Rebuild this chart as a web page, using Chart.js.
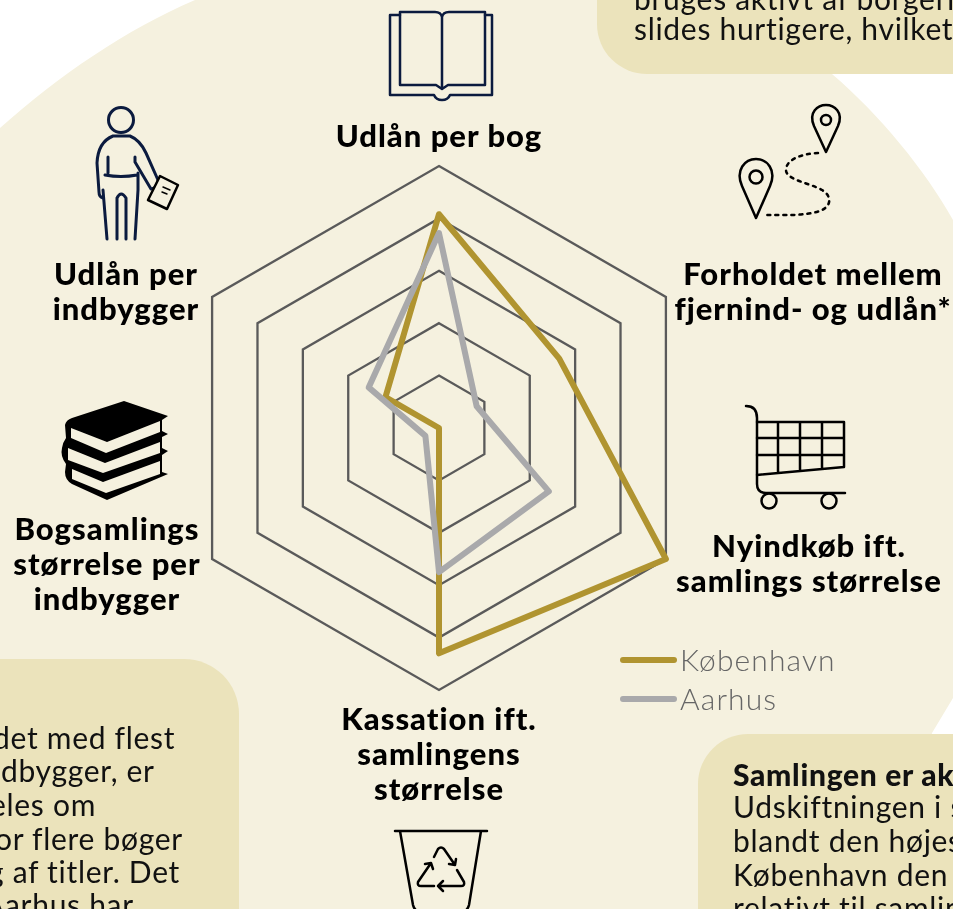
<!DOCTYPE html>
<html lang="da">
<head>
<meta charset="utf-8">
<title>Udlån radar</title>
<script src="https://cdn.jsdelivr.net/npm/chart.js@4"></script>
<style>
  html, body { margin: 0; padding: 0; background: #fff; }
  #page { position: relative; width: 953px; height: 909px; overflow: hidden; font-family: Lato, sans-serif; }
  #page > svg, #page > canvas { position: absolute; left: 0; top: 0; }
  .box { position: absolute; background: #ebe3bb; }
  .label { position: absolute; transform: translateX(-50%); text-align: center; white-space: nowrap;
    font-weight: 900; font-size: 31px; letter-spacing: 1px; line-height: 35px; color: #000; }
  .line { position: absolute; white-space: nowrap; font-size: 30px; letter-spacing: .7px; line-height: 35px; color: #111; }
  .leg { position: absolute; font-size: 30px; line-height: 35px; color: #666; font-weight: 300; letter-spacing: 1.1px; white-space: nowrap; }
  .swatch { position: absolute; width: 57px; height: 6px; border-radius: 3px; }
</style>
</head>
<body>
<div id="page">
  <svg width="953" height="909"><path fill="#f5f1df" d="M0 128C60 75 125 30 195 0L740 0L832 74C880 115 925 170 953 220L953 698L932 733L900 909L0 909Z"/></svg>
  <div class="box" style="left:597px;top:-60px;width:420px;height:134px;border-radius:50px"></div>
  <div class="box" style="left:-80px;top:659px;width:319px;height:320px;border-radius:55px"></div>
  <div class="box" style="left:698px;top:734px;width:320px;height:240px;border-radius:50px"></div>
  <canvas id="chart" width="953" height="909"></canvas>
  <svg width="953" height="909" fill="none" stroke-linecap="round" stroke-linejoin="round">
    <!-- book -->
    <g stroke="#0b1b3f" stroke-width="2.5">
      <path d="M400 15H390V95H434Q436 100 442 100Q448 100 450 95H492V15H485"/>
      <path d="M442 17Q441 12 435 12H400V85H436L442 89L448 85H485V12H449Q443 12 442 17V89"/>
    </g>
    <!-- person -->
    <g stroke="#0b1b3f" stroke-width="3">
      <circle cx="121" cy="120" r="12.5"/>
      <path d="M103 198Q99 197 99 192L97 163Q98 142 113 136H130Q140 140 146 153L158 180Q158 188 151 189L135 162V157"/>
      <path d="M108 157V173M105 175Q121 178 137 175M103 190L107 239M138 173V190L135 239M117 239V198Q121 190 126 198V239"/>
    </g>
    <path stroke="#000" stroke-width="2.5" fill="#f5f1df" d="M160 176L178 185L167 209L148 200Z"/>
    <path stroke="#000" stroke-width="1.5" d="M163 187L170 190M162 192L167 194"/>
    <!-- pile of books -->
    <path fill="#000" stroke="none" d="M124 401L168 416L162 420V431L168 434L162 437V448L168 451L162 455V472L168 474L107 500L72 484Q65 480 65 472L66 464Q60 456 62 448Q63 442 66 438L65 425Q66 420 72 418Z"/>
    <g fill="#f5f1df" stroke="none">
      <path d="M71 428L107 442L160 421V432L106 453L71 438Z"/>
      <path d="M68 448L105 463L160 442V453L103 473L68 460Z"/>
      <path d="M72 469L103 482L160 461V474L106 493L72 479Z"/>
    </g>
    <!-- route with pins -->
    <g stroke="#000" stroke-width="2.5">
      <path d="M826 152L814 126C808 112 818 105 826 105C834 105 844 112 838 126Z"/>
      <circle cx="826" cy="120" r="5"/>
      <path d="M756 218L742 186C735 170 745 159 756 159C767 159 777 170 770 186Z"/>
      <circle cx="756" cy="177" r="6.5"/>
      <path stroke-dasharray="3 5" d="M818 153C800 154 786 160 786 170C786 180 810 183 822 190C832 196 832 206 820 211C805 216 785 215 767 215"/>
    </g>
    <!-- cart -->
    <g stroke="#000" stroke-width="2.5">
      <path d="M746 406Q757 406 757 418V484Q757 493 766 493H845"/>
      <path d="M757 422H844V467L757 475M757 438H844M757 455H844M778 422V473M800 422V471M822 422V469"/>
      <circle cx="769" cy="501" r="7.5"/>
      <circle cx="829" cy="501" r="7.5"/>
    </g>
    <!-- recycling bin -->
    <g stroke="#000" stroke-width="2.5">
      <path d="M395 831H487M400 831L413 905Q414 909 417 911M481 831L469 905Q468 909 465 911"/>
      <path d="M434 857L438 849Q441 846 444 849L455 865M449 864L455 865L456 859"/>
      <path d="M457 870L464 882Q465 886 461 886H438M443 881L438 886L443 891"/>
      <path d="M434 886H421Q417 886 418 882L431 863M425 864L431 863L433 869"/>
    </g>
  </svg>
  <div id="overlay"></div>
</div>
<script>
const categories = [
  ["Udlån per bog"],
  ["Forholdet mellem", "fjernind- og udlån*"],
  ["Nyindkøb ift.", "samlings størrelse"],
  ["Kassation ift.", "samlingens", "størrelse"],
  ["Bogsamlings", "størrelse per", "indbygger"],
  ["Udlån per", "indbygger"]
];
const koebenhavn = [4.08, 2.65, 5.0, 4.3, 0, 1.18];
const aarhus = [3.72, 0.83, 2.42, 2.75, 0.3, 1.55];

const GOLD = "#b09430";
const GREY = "#a9a9ab";

const labelPos = [[439, 118], [813, 256], [809, 528], [439, 701], [107, 511], [126, 256]];

const leftText = [
  ["det med flest", -7, 720], ["dbygger, er", 1, 753], ["eles om", -10, 787],
  ["or flere bøger", -5, 821], ["g af titler. Det", -12, 854], ["Aarhus har", -16, 887]
];
const rightText = [
  ["Samlingen er ak", 733, 757, 900], ["Udskiftningen i s", 733, 789], ["blandt den højes", 733, 823],
  ["København den", 733, 857], ["relativt til samlin", 733, 890]
];
const topText = [["bruges aktivt af borgern", 634, -19], ["slides hurtigere, hvilket", 634, 11]];

const overlay = document.getElementById("overlay");

function addDiv(cls, text, left, top) {
  const d = document.createElement("div");
  d.className = cls;
  d.innerHTML = text;
  d.style.left = left + "px";
  d.style.top = top + "px";
  overlay.appendChild(d);
  return d;
}

categories.forEach((c, i) => addDiv("label", c.join("<br>"), labelPos[i][0], labelPos[i][1]));
leftText.concat(rightText, topText).forEach((t) => {
  const d = addDiv("line", t[0], t[1], t[2]);
  if (t[3]) d.style.fontWeight = t[3];
});

[["København", GOLD, 660], ["Aarhus", GREY, 699]].forEach((l) => {
  const s = addDiv("swatch", "", 620, l[2] - 3);
  s.style.background = l[1];
  addDiv("leg", l[0], 680, l[2] - 18);
});

const chart = new Chart(document.getElementById("chart"), {
  type: "radar",
  data: {
    labels: categories,
    datasets: [
      { label: "København", data: koebenhavn, order: 1, borderColor: GOLD, borderWidth: 6, pointRadius: 0, fill: false, borderJoinStyle: "round", backgroundColor: "transparent" },
      { label: "Aarhus", data: aarhus, order: 0, borderColor: GREY, borderWidth: 6, pointRadius: 0, fill: false, borderJoinStyle: "round", backgroundColor: "transparent" }
    ]
  },
  options: {
    responsive: false,
    animation: false,
    layout: { padding: { top: 166, bottom: 219, left: 177, right: 252 } },
    plugins: { legend: { display: false }, tooltip: { enabled: false } },
    scales: {
      r: {
        min: 0,
        max: 5,
        ticks: { stepSize: 1, display: false },
        pointLabels: { display: false },
        angleLines: { display: false },
        grid: { color: "#5a5a5a", lineWidth: 2.3 }
      }
    }
  }
});
</script>
</body>
</html>
